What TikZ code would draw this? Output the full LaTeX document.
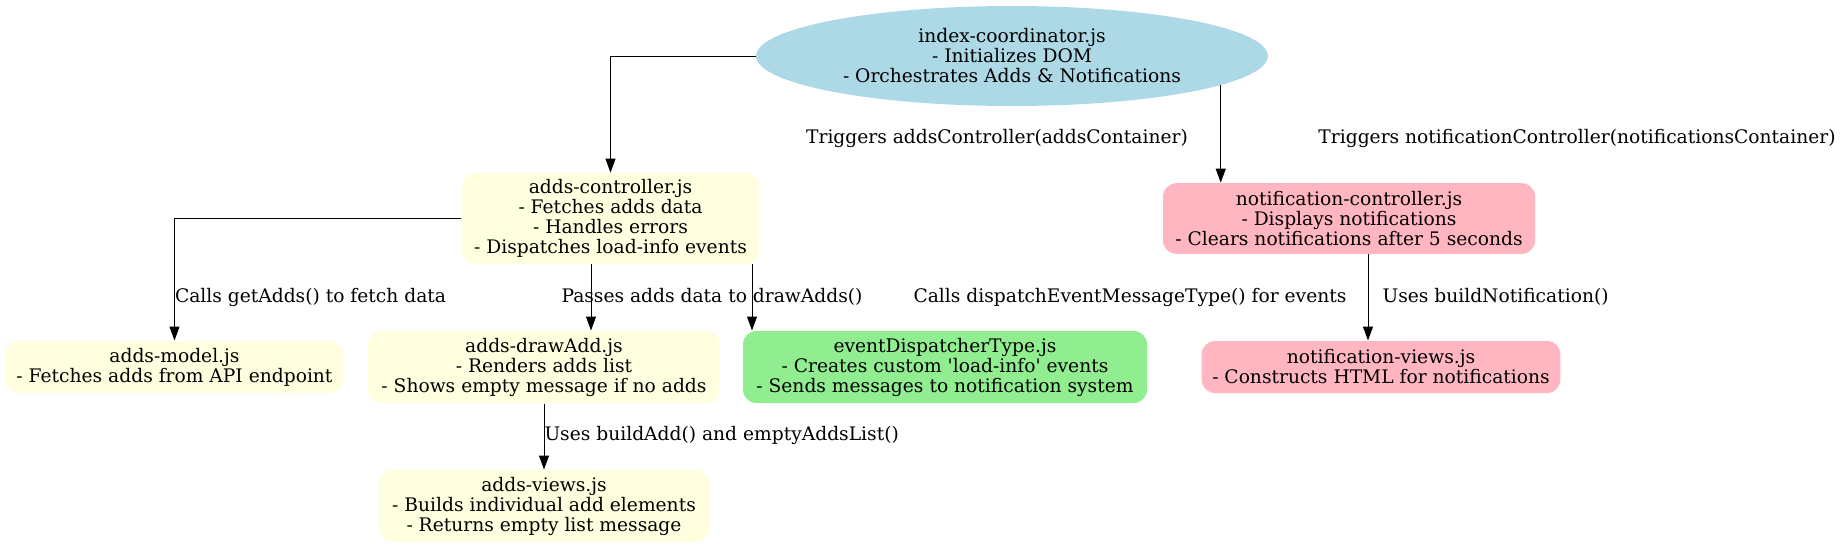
\documentclass[tikz,border=0pt]{standalone}
\usepackage{fontspec}
\setmainfont{DejaVu Serif}
\usetikzlibrary{arrows.meta,shapes.geometric}

\definecolor{coordblue}{HTML}{ADD8E6}
\definecolor{addsyellow}{HTML}{FFFFE0}
\definecolor{notifpink}{HTML}{FFB6C1}
\definecolor{eventgreen}{HTML}{90EE90}

\begin{document}
\begin{tikzpicture}[x=0.75pt,y=-0.75pt,->,>={Triangle[length=10.5pt,width=7.5pt]},
                    line width=0.75pt,
                    every node/.style={font=\fontsize{14}{15}\selectfont}]
	  \tikzstyle{module}=[rectangle,rounded corners=10pt,align=center,inner sep=2pt]
	  \tikzstyle{elabel}=[inner sep=0pt]

	  \useasboundingbox (0,0) rectangle (1841,547);

	  \node[ellipse,fill=coordblue,align=center,minimum width=384pt,minimum height=75pt,inner sep=0pt]
	        (index) at (1012,56) {index-coordinator.js\\- Initializes DOM\\- Orchestrates Adds \& Notifications};

	  \node[module,fill=addsyellow,minimum width=223pt,minimum height=68pt] (ctrl) at (610.5,218.5) {adds-controller.js\\- Fetches adds data\\- Handles errors\\- Dispatches load-info events};
	  \node[module,fill=notifpink,minimum width=279pt,minimum height=53pt]  (notif) at (1349,218.5) {notification-controller.js\\- Displays notifications\\- Clears notifications after 5 seconds};

	  \node[module,fill=addsyellow,minimum width=254pt,minimum height=39pt] (model) at (174.5,367) {adds-model.js\\- Fetches adds from API endpoint};
	  \node[module,fill=addsyellow,minimum width=264pt,minimum height=54pt] (draw) at (544,367) {adds-drawAdd.js\\- Renders adds list\\- Shows empty message if no adds};
	  \node[module,fill=eventgreen,minimum width=303pt,minimum height=54pt] (disp) at (945,367) {eventDispatcherType.js\\- Creates custom \textquotesingle load-info\textquotesingle{} events\\- Sends messages to notification system};
	  \node[module,fill=notifpink,minimum width=269pt,minimum height=39pt]  (nviews) at (1381,367) {notification-views.js\\- Constructs HTML for notifications};

	  \node[module,fill=addsyellow,minimum width=247.5pt,minimum height=54pt] (views) at (544,506) {adds-views.js\\- Builds individual add elements\\- Returns empty list message};

	  % where the arrows leave and meet the boxes
	  \coordinate (drawin) at (591,0);
	  \coordinate (dispin) at (752,0);
	  \coordinate (nviewsin) at (1368,0);
	  \coordinate (lrow) at (0,297);

	  \draw (index.west) -| (ctrl.north);
	  \node[elabel] (lctrl) at (997,138) {Triggers addsController(addsContainer)};
	  \draw (index.-8.5) -- (index.-8.5 |- notif.north);
	  \node[elabel] (lnotif) at (1577,138) {Triggers notificationController(notificationsContainer)};

	  \draw (ctrl.west) -| (model.north);
	  \node[elabel,anchor=west] (lmodel) at (model.north |- lrow) {Calls getAdds() to fetch data};
	  \draw (ctrl.south -| drawin) -- (draw.north -| drawin);
	  \node[elabel] (ldraw) at (712,297) {Passes adds data to drawAdds()};
	  \draw (ctrl.south -| dispin) -- (disp.north -| dispin);
	  \node[elabel] (ldisp) at (1130,297) {Calls dispatchEventMessageType() for events};
	  \draw (notif.south -| nviewsin) -- (nviews.north -| nviewsin);
	  \node[elabel,anchor=west,xshift=10.5pt] (lnviews) at (nviewsin |- lrow) {Uses buildNotification()};

	  \draw (draw.south) -- (views.north);
	  \node[elabel,anchor=west] (lviews) at (views.north |- 0,435) {Uses buildAdd() and emptyAddsList()};
\end{tikzpicture}
\end{document}
